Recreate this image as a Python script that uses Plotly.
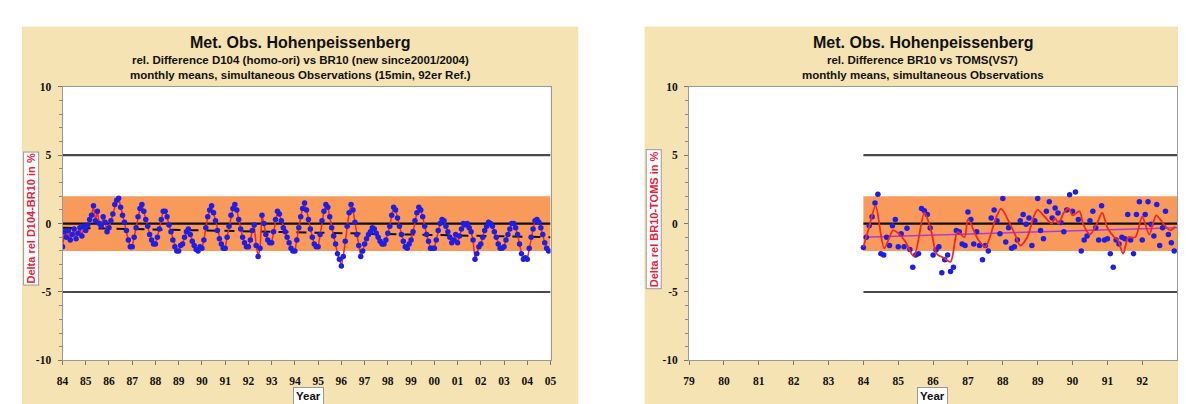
import plotly.graph_objects as go

W, H = 1186, 404

# ---------------- data ----------------
# Left chart: monthly rel. difference D104 vs BR10 (%), Jan 1984 .. Dec 2004
left_start_year = 84
d104_br10 = [
    -1.7, -0.6, -1.0, -0.5, -1.2, -0.8, -0.4, -1.1, -0.7, -0.3, -0.9, -0.2,   # 84
    -0.5, -0.1, 0.3, 0.6, 1.3, 0.2, 0.9, 0.0, -0.2, 0.5, 0.1, -0.6,          # 85
    -0.3, 0.2, 0.7, 1.4, 1.7, 1.85, 1.2, 0.6, 0.1, -0.5, -1.2, -1.7,         # 86
    -1.7, -1.0, -0.3, 0.5, 1.1, 1.4, 0.9, 0.3, -0.2, -0.8, -1.2, -1.5,       # 87
    -1.5, -1.0, -0.4, 0.3, 0.9, 0.9, 0.5, -0.1, -0.6, -1.2, -1.7, -2.0,      # 88
    -2.0, -1.6, -1.5, -1.0, -0.6, -0.4, -0.8, -1.3, -1.6, -1.9, -2.0, -1.7,  # 89
    -1.8, -1.2, -0.3, 0.5, 1.0, 1.3, 0.8, 0.2, -0.5, -1.1, -1.5, -1.8,       # 90
    -1.8, -1.0, -0.2, 0.6, 1.1, 1.4, 1.0, 0.3, -0.4, -1.0, -1.4, -1.7,       # 91
    -1.7, -1.2, -0.5, -0.1, -1.6, -2.4, -1.8, 0.6, 0.0, -0.8, -1.2, -1.4,    # 92
    -1.4, -0.6, 0.3, 0.9, 0.7, 0.2, -0.3, -0.6, -1.0, -1.4, -1.8, -2.0,      # 93
    -2.0, -1.2, -0.3, 0.5, 1.1, 1.5, 1.0, 0.3, -0.4, -1.0, -1.5, -1.7,       # 94
    -1.7, -0.8, 0.2, 0.9, 1.4, 1.2, 0.5, -0.3, -0.9, -1.5, -2.2, -2.6,       # 95
    -3.1, -2.4, -1.3, -0.2, 0.8, 1.4, 1.0, 0.1, -0.8, -1.6, -2.4, -2.0,      # 96
    -1.5, -1.1, -0.8, -0.6, -0.3, -0.4, -0.7, -1.0, -1.3, -1.5, -1.5, -1.2,  # 97
    -0.7, -0.2, 0.6, 1.2, 1.0, 0.4, -0.2, -0.8, -1.3, -1.7, -1.8, -1.5,      # 98
    -1.2, -0.6, 0.2, 0.8, 1.2, 1.0, 0.5, -0.2, -0.8, -1.3, -1.8, -1.8,       # 99
    -1.8, -1.2, -0.5, 0.0, 0.3, 0.2, -0.2, -0.6, -1.0, -1.4, -1.2, -0.8,     # 00
    -1.4, -0.9, -0.4, 0.0, -0.1, 0.0, -0.3, -0.6, -1.2, -2.6, -2.2, -1.7,    # 01
    -1.5, -1.0, -0.5, -0.2, 0.1, 0.0, -0.2, -0.6, -1.0, -1.5, -1.8, -1.8,    # 02
    -1.7, -1.2, -0.8, -0.4, 0.0, 0.0, -0.3, -0.8, -1.5, -2.2, -2.6, -2.5,    # 03
    -2.6, -1.8, -1.0, -0.4, 0.2, 0.3, 0.1, -0.3, -0.8, -1.4, -1.8, -2.0,     # 04
]
left_trend_years = [84, 105]
left_trend_vals = [-0.3, -1.0]
left_tick_years = list(range(84, 106))
left_tick_text = ["84", "85", "86", "87", "88", "89", "90", "91", "92", "93", "94",
                  "95", "96", "97", "98", "99", "00", "01", "02", "03", "04", "05"]
left_span = [84, 105]

# Right chart: monthly rel. difference BR10 vs TOMS (V7) (%), Jan 1984 .. Dec 1992
right_start_year = 84
br10_toms = [
    -1.75, -1.0, -0.15, 0.5, 1.5, 2.15, -2.2, -2.3, -1.0, -1.6, -0.15, 0.3,  # 84
    -1.7, -0.75, -1.7, -0.35, -1.9, -3.2, -2.3, -2.2, 1.1, 0.94, 0.66, -0.33, # 85
    -2.3, -1.94, -1.7, -3.6, -2.65, -2.3, -3.5, -3.2, -0.5, -0.6, -1.5, -1.6, # 86
    0.85, 0.3, -1.5, -0.6, -1.6, -2.65, -1.6, -2.0, 0.4, 1.0, 0.2, -0.75,    # 87
    1.84, -1.35, -0.3, -1.8, -1.7, -1.2, 0.2, 0.66, -0.05, 0.4, -1.6, 0.2,   # 88
    1.84, -0.5, -1.1, 0.9, 1.6, 0.4, 1.13, 0.78, 0.07, -0.6, 1.0, 2.1,       # 89
    0.9, 2.3, 0.3, -2.0, -1.2, -0.9, 0.2, 0.9, -0.3, -1.2, 1.3, -1.2,        # 90
    -1.1, -2.2, -3.2, -1.2, -1.5, -1.0, -1.1, 0.66, -1.2, -2.2, 0.66, 1.6,   # 91
    -1.2, 0.66, 1.6, -0.05, -0.9, 1.4, -1.6, -0.3, 0.9, -0.8, -1.4, -2.0,    # 92
]
smooth_years = [84.0, 84.15, 84.35, 84.6, 84.85, 85.0, 85.2, 85.45, 85.75, 85.95,
                86.1, 86.3, 86.5, 86.7, 86.9, 87.0, 87.3, 87.5, 87.8, 87.95,
                88.2, 88.35, 88.5, 88.7, 88.9, 89.0, 89.2, 89.4, 89.5, 89.6,
                89.75, 89.9, 90.0, 90.2, 90.3, 90.5, 90.7, 90.85, 91.0, 91.2,
                91.3, 91.45, 91.6, 91.8, 92.0, 92.2, 92.4, 92.6, 92.8, 92.95]
smooth_vals = [-1.7, -0.4, 1.3, -1.8, -0.5, -0.7, -1.3, -2.4, 0.8, -0.6,
               -2.2, -2.5, -2.8, -0.6, -1.0, 0.3, -1.2, -1.7, 0.4, 1.1,
               0.0, -0.8, -1.6, -1.0, 0.6, 1.0, 0.5, 0.0, 0.4, 0.0,
               0.8, 1.1, 0.6, 0.9, 0.0, -0.8, 0.0, 0.8, -0.3, -1.0,
               -1.2, -2.2, -1.0, -1.0, 0.5, -0.8, 0.6, 0.0, -0.5, -0.2]
right_trend_years = [84, 93]
right_trend_vals = [-1.0, -0.3]
right_tick_years = list(range(79, 93))
right_tick_text = ["79", "80", "81", "82", "83", "84", "85", "86", "87", "88",
                   "89", "90", "91", "92"]
right_span = [84, 93]
right_range = [79, 93]

band_low, band_high = -2, 2
ref_levels = [-5, 0, 5]
y_tick_vals = [-10, -5, 0, 5, 10]
y_tick_text = ["-10", "-5", "0", "5", "10"]

left_titles = ["Met. Obs. Hohenpeissenberg",
               "rel. Difference D104 (homo-ori) vs BR10 (new since2001/2004)",
               "monthly means, simultaneous Observations (15min, 92er Ref.)"]
right_titles = ["Met. Obs. Hohenpeissenberg",
                "rel. Difference BR10 vs TOMS(VS7)",
                "monthly means, simultaneous Observations"]
left_ytitle = "Delta rel D104-BR10 in %"
right_ytitle = "Delta rel BR10-TOMS in %"
x_title = "Year"

# ---------------- styling ----------------
PARCH = "#F6E3B3"
ORANGE = "#F99A5B"
BLUE = "#1E1EE6"
RED = "#F02828"
MAGENTA = "#B03AD8"

def fx(px):
    return px / W

def fy(py):
    return 1 - py / H

left_x = [left_start_year + i / 12 for i in range(len(d104_br10))]
right_x = [right_start_year + i / 12 for i in range(len(br10_toms))]

fig = go.Figure()

def add_panel_traces(xa, ya, span):
    fig.add_trace(go.Scatter(x=[span[0], span[1], span[1], span[0], span[0]],
                             y=[band_low, band_low, band_high, band_high, band_low],
                             fill="toself", fillcolor=ORANGE, line=dict(width=0),
                             mode="lines", hoverinfo="skip", showlegend=False,
                             xaxis=xa, yaxis=ya))
    for lv in ref_levels:
        fig.add_trace(go.Scatter(x=span, y=[lv, lv], mode="lines",
                                 line=dict(color="#111111" if lv == 0 else "#4a4a4a",
                                           width=2.2),
                                 hoverinfo="skip", showlegend=False,
                                 xaxis=xa, yaxis=ya))

add_panel_traces("x", "y", left_span)
fig.add_trace(go.Scatter(x=left_trend_years, y=left_trend_vals, mode="lines",
                         line=dict(color="#111111", width=2, dash="10px,8px"),
                         showlegend=False, xaxis="x", yaxis="y"))
fig.add_trace(go.Scatter(x=left_x, y=d104_br10, mode="lines+markers",
                         line=dict(color=RED, width=1.5),
                         marker=dict(color=BLUE, size=5.5),
                         showlegend=False, xaxis="x", yaxis="y"))

add_panel_traces("x2", "y2", right_span)
fig.add_trace(go.Scatter(x=right_trend_years, y=right_trend_vals, mode="lines",
                         line=dict(color=MAGENTA, width=1.5),
                         showlegend=False, xaxis="x2", yaxis="y2"))
fig.add_trace(go.Scatter(x=right_x, y=br10_toms, mode="markers",
                         marker=dict(color=BLUE, size=5.5),
                         showlegend=False, xaxis="x2", yaxis="y2"))
fig.add_trace(go.Scatter(x=smooth_years, y=smooth_vals, mode="lines",
                         line=dict(color=RED, width=1.8, shape="spline", smoothing=0.8),
                         showlegend=False, xaxis="x2", yaxis="y2"))

tickfont = dict(family="Liberation Serif", size=11.5, color="#111111", weight="bold")
plot_top, plot_bot = 75, 357
ydom = [fy(plot_bot), fy(plot_top)]

def xaxis_cfg(rng, tv, tt, dom):
    return dict(range=rng, domain=dom, tickvals=tv, ticktext=tt, ticks="outside",
                ticklen=4, tickcolor="#777", showline=True, linecolor="#999",
                linewidth=1, mirror=True, showgrid=False, zeroline=False,
                tickfont=tickfont, ticklabelstandoff=6, fixedrange=True)

def yaxis_cfg(anchor):
    return dict(range=[-10, 10], domain=ydom, tickvals=y_tick_vals, ticktext=y_tick_text,
                ticks="outside", ticklen=4, tickcolor="#777", showline=True,
                linecolor="#999", linewidth=1, mirror=True, showgrid=False,
                zeroline=False, tickfont=tickfont, ticklabelstandoff=4, anchor=anchor,
                minor=dict(dtick=1, ticks="outside", ticklen=3, tickcolor="#888"))

fig.update_layout(
    width=W, height=H, margin=dict(l=0, r=0, t=0, b=0),
    paper_bgcolor="white", plot_bgcolor="white", showlegend=False,
    xaxis=xaxis_cfg(left_span, left_tick_years, left_tick_text, [fx(49), fx(542)]),
    yaxis=yaxis_cfg("x"),
    xaxis2=dict(xaxis_cfg(right_range, right_tick_years, right_tick_text,
                          [fx(682), fx(1175)]), anchor="y2"),
    yaxis2=yaxis_cfg("x2"),
)

shapes = [
    dict(type="rect", xref="paper", yref="paper", x0=fx(8), x1=fx(570),
         y0=0, y1=fy(13), fillcolor=PARCH, line=dict(width=0), layer="below"),
    dict(type="rect", xref="paper", yref="paper", x0=fx(637), x1=1,
         y0=0, y1=fy(13), fillcolor=PARCH, line=dict(width=0), layer="below"),
    dict(type="rect", xref="x domain", yref="y domain", x0=0, x1=1, y0=0, y1=1,
         fillcolor="white", line=dict(width=0), layer="below"),
    dict(type="rect", xref="x2 domain", yref="y2 domain", x0=0, x1=1, y0=0, y1=1,
         fillcolor="white", line=dict(width=0), layer="below"),
]
fig.update_layout(shapes=shapes)

ann = []
def titles(cx, lines):
    ys = [29, 47, 63]
    sizes = [16, 11.5, 11.5]
    for t, yy, s in zip(lines, ys, sizes):
        ann.append(dict(text=t, x=fx(cx), y=fy(yy), xref="paper", yref="paper",
                        showarrow=False, xanchor="center", yanchor="middle",
                        font=dict(family="Liberation Sans", size=s, color="#111111",
                                  weight="bold")))

titles(289, left_titles)
titles(918, right_titles)

def ytitle(cx, text):
    ann.append(dict(text=text, x=fx(cx), y=fy(211), xref="paper", yref="paper",
                    showarrow=False, textangle=-90, xanchor="center", yanchor="middle",
                    bgcolor="white", bordercolor="#999", borderwidth=1, borderpad=1,
                    font=dict(family="Liberation Sans", size=11, color="#E8203C",
                              weight="bold")))

ytitle(17, left_ytitle)
ytitle(646, right_ytitle)

def xtitle(cx):
    ann.append(dict(text=x_title, x=fx(cx), y=fy(384), xref="paper", yref="paper",
                    showarrow=False, xanchor="center", yanchor="top",
                    bgcolor="white", bordercolor="#999", borderwidth=1, borderpad=2,
                    font=dict(family="Liberation Sans", size=11.5, color="#111111",
                              weight="bold")))

xtitle(298)
xtitle(928)
fig.update_layout(annotations=ann)

fig.write_html("out.html")
